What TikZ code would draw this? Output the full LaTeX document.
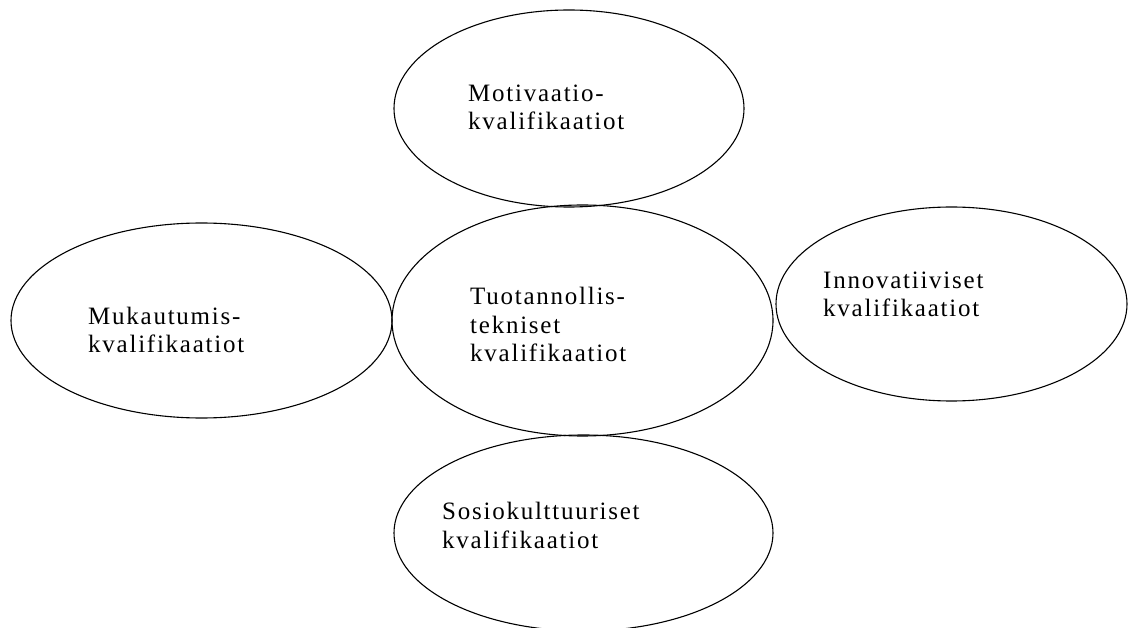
\documentclass[tikz,border=0pt]{standalone}
\usepackage{fontspec}
\setmainfont{Liberation Serif}[LetterSpace=7.0]
\usetikzlibrary{shapes.geometric}
\def\lw{1.1pt}

\tikzset{
  kval/.style={ellipse, draw=black, line width=\lw, inner sep=0pt, outer sep=0pt},
  kvaltext/.style={align=left, inner sep=0pt, anchor=base west, font=\fontsize{25}{28.5}\selectfont}
}

\begin{document}
\begin{tikzpicture}[x=1pt, y=-1pt]

\useasboundingbox (0,0) rectangle (1128,628);

% ellipses: name / centre x / centre y / width / height
\foreach \n/\cx/\cy/\w/\h in {motiv/569/108.5/350/197, mukaut/201.5/320.5/381/195, tuot/582.5/320.5/381/231, innov/951.5/304/351/194, sosio/583.5/533/379/196}{
    \node[kval, minimum width=\w pt, minimum height=\h pt] (\n) at (\cx,\cy) {};
}

% texts (anchored at the baseline of the last line)
\node[kvaltext] (motivtxt) at (468,130) {Motivaatio-\\kvalifikaatiot};
\node[kvaltext] (mukauttxt) at (88,353) {Mukautumis-\\kvalifikaatiot};
\node[kvaltext] (tuottxt) at (470,362) {Tuotannollis-\\tekniset\\kvalifikaatiot};
\node[kvaltext] (innovtxt) at (823,317) {Innovatiiviset\\kvalifikaatiot};
\node[kvaltext] (sosiotxt) at (442,548) {Sosiokulttuuriset\\kvalifikaatiot};

\end{tikzpicture}
\end{document}
